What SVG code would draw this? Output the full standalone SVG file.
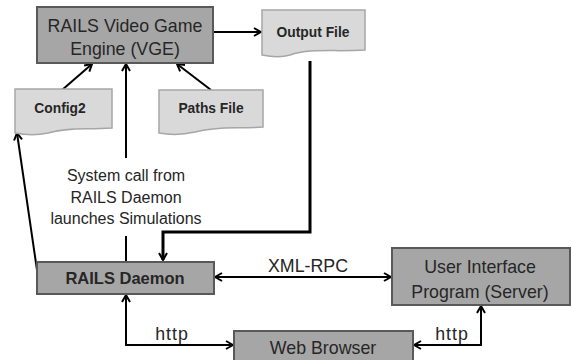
<svg xmlns="http://www.w3.org/2000/svg" width="572" height="360" viewBox="0 0 572 360">
<defs>
<style>
.box{fill:#a6a6a6;stroke:#595959;stroke-width:2}
.doc{fill:#d9d9d9;stroke:#a6a6a6;stroke-width:1.5}
.t{font-family:"Liberation Sans",Arial,sans-serif;fill:#262626;text-anchor:middle}
.big{font-size:17.8px}
.mid{font-size:16px}
.bold{font-size:13.8px;font-weight:bold}
.c{fill:none;stroke:#000;stroke-width:2}
.thick{stroke-width:3}
</style>
<marker id="a" viewBox="0 0 10 10" refX="9" refY="5" markerWidth="10" markerHeight="10" markerUnits="userSpaceOnUse" orient="auto-start-reverse">
<path d="M2,1 L9,5 L2,9" fill="none" stroke="#000" stroke-width="2"/>
</marker>
</defs>
<rect width="572" height="360" fill="#fff"/>
<g id="connectors">
<path class="c" d="M213,32 H261" marker-end="url(#a)"/>
<path class="c" d="M62,90 L92,64" marker-end="url(#a)"/>
<path class="c" d="M211,90 L177,64" marker-end="url(#a)"/>
<path class="c" d="M126,262 V236 M126,158 V64" marker-end="url(#a)"/>
<path class="c thick" d="M310,61 V232 H163 V260" marker-end="url(#a)"/>
<path class="c" d="M37,270 L17,133" marker-end="url(#a)"/>
<path class="c" d="M215,277 H391" marker-start="url(#a)" marker-end="url(#a)"/>
<path class="c" d="M126,295 V345 H233" marker-start="url(#a)" marker-end="url(#a)"/>
<path class="c" d="M414,345 H481 V306" marker-start="url(#a)" marker-end="url(#a)"/>
<text class="t mid" x="126" y="181">System call from</text>
<text class="t mid" x="126" y="203">RAILS Daemon</text>
<text class="t mid" x="126" y="224">launches Simulations</text>
<text class="t big" x="308" y="272" font-size="17px">XML-RPC</text>
<text class="t big" x="172" y="340" letter-spacing="1">http</text>
<text class="t big" x="452" y="340" letter-spacing="1">http</text>
</g>
<g id="vge">
<rect class="box" x="37" y="7" width="176" height="56"/>
<text class="t big" x="125" y="32">RAILS Video Game</text>
<text class="t big" x="125" y="55">Engine (VGE)</text>
</g>
<g id="output">
<path class="doc" d="M262,10 H365 V50 C335,52 310,48 290,55 C280,58 272,57 262,55 Z"/>
<text class="t bold" x="313" y="37">Output File</text>
</g>
<g id="config2">
<path class="doc" d="M15,89 H112 V128 C85,130 70,127 48,133 C35,136 25,135 15,133 Z"/>
<text class="t bold" x="60" y="113">Config2</text>
</g>
<g id="paths">
<path class="doc" d="M159,90 H263 V127 C235,129 218,126 195,132 C182,135 170,135 159,133 Z"/>
<text class="t bold" x="211" y="113">Paths File</text>
</g>
<g id="daemon">
<rect class="box" x="37" y="262" width="177" height="32"/>
<text class="t" x="125" y="284" font-size="16.5" font-weight="bold">RAILS Daemon</text>
</g>
<g id="ui">
<rect class="box" x="392" y="248" width="178" height="57"/>
<text class="t big" x="480" y="273">User Interface</text>
<text class="t big" x="480" y="298">Program (Server)</text>
</g>
<g id="browser">
<rect class="box" x="234" y="331" width="179" height="40"/>
<text class="t big" x="323" y="354">Web Browser</text>
</g>
</svg>
